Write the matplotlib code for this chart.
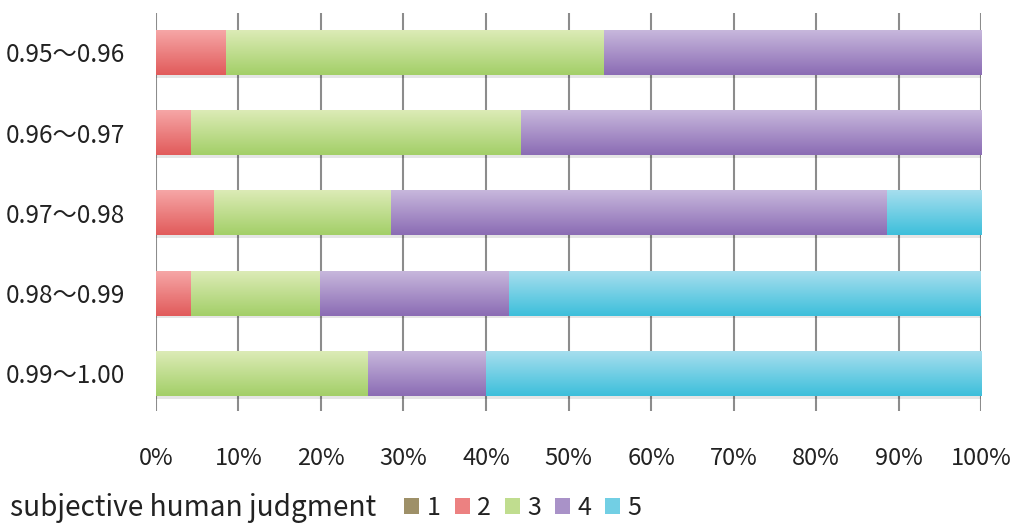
import numpy as np
import matplotlib
matplotlib.use("Agg")
import matplotlib.pyplot as plt
from matplotlib.colors import LinearSegmentedColormap, to_rgb
from matplotlib.patches import Rectangle

plt.rcParams['font.family'] = ['Noto Sans CJK JP', 'DejaVu Sans']

# Similarity ranges (top to bottom) and share of each judgment score, in %
ranges = ["0.95～0.96", "0.96～0.97", "0.97～0.98", "0.98～0.99", "0.99～1.00"]
score_labels = ["1", "2", "3", "4", "5"]
score1 = [0.0, 0.0, 0.0, 0.0, 0.0]
score2 = [8.5, 4.2, 7.0, 4.2, 0.0]
score3 = [45.8, 40.0, 21.5, 15.7, 25.7]
score4 = [45.7, 55.8, 60.1, 22.9, 14.3]
score5 = [0.0, 0.0, 11.4, 57.2, 60.0]
x_ticks = [0, 10, 20, 30, 40, 50, 60, 70, 80, 90, 100]

series = [score1, score2, score3, score4, score5]
# (top colour, bottom colour) of each bar's vertical gradient
shades = [("#ADA07A", "#8E7F55"),
          ("#F6A6A6", "#E15B5B"),
          ("#DCEBB6", "#A3CF68"),
          ("#C7B7DC", "#8B6CB4"),
          ("#A6DEEE", "#3DBFDB")]

fig = plt.figure(figsize=(10.18, 5.27), dpi=100)
ax = fig.add_axes([0.1532, 0.220, 0.8105, 0.755])

ypos = np.arange(len(ranges))[::-1]
bar_h = 0.56
left = np.zeros(len(ranges))
handles = []
for vals, (top_c, bot_c), lab in zip(series, shades, score_labels):
    vals = np.asarray(vals, dtype=float)
    mid = tuple((np.array(to_rgb(top_c)) + np.array(to_rgb(bot_c))) / 2)
    bars = ax.barh(ypos, vals, height=bar_h, left=left, color=mid,
                   linewidth=0, zorder=3, label=lab)
    handles.append(bars)
    cmap = LinearSegmentedColormap.from_list("g", [bot_c, top_c])
    grad = np.linspace(0, 1, 64).reshape(-1, 1)
    for rect in bars:
        w = rect.get_width()
        if w <= 0:
            continue
        x0, y0, h = rect.get_x(), rect.get_y(), rect.get_height()
        # soft drop shadow under the bar
        ax.add_patch(Rectangle((x0, y0 - 0.035), w, h, facecolor="#000000",
                               alpha=0.10, linewidth=0, zorder=2))
        im = ax.imshow(grad, cmap=cmap, origin="lower", aspect="auto",
                       extent=(x0, x0 + w, y0, y0 + h), zorder=4,
                       interpolation="bilinear")
        im.set_clip_path(rect)
    left = left + vals

ax.set_xlim(0, 100)
ax.set_ylim(-0.47, 4.49)
ax.set_xticks(x_ticks)
ax.set_xticklabels([f"{t}%" for t in x_ticks])
ax.set_yticks(ypos)
ax.set_yticklabels(ranges)
ax.grid(axis="x", color="#8C8C8C", linewidth=1.5, zorder=0)
ax.set_axisbelow(True)
for s in ax.spines.values():
    s.set_visible(False)
ax.tick_params(axis="both", length=0, labelsize=17, colors="#222222")
ax.tick_params(axis="x", pad=26)
ax.tick_params(axis="y", pad=22)
for t in ax.get_yticklabels():
    t.set_fontsize(17.5)

fig.text(0.010, 0.036, "subjective human judgment", fontsize=20.2,
         color="#222222", va="center", ha="left")
fig.legend(handles=handles, labels=score_labels, ncol=5,
           loc="center left", bbox_to_anchor=(0.385, 0.036),
           frameon=False, fontsize=18, handlelength=0.6, handleheight=0.6,
           handletextpad=0.3, columnspacing=0.55, borderpad=0,
           labelcolor="#222222")

fig.savefig("out.png", dpi=100)
